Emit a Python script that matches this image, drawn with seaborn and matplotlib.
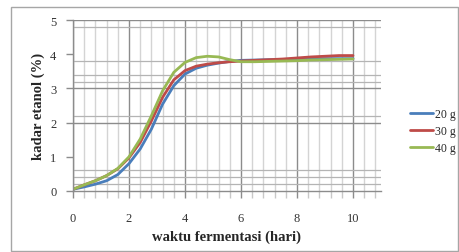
import numpy as np
import pandas as pd
import matplotlib
matplotlib.use('Agg')
import matplotlib.pyplot as plt
import seaborn as sns
from matplotlib.patches import Rectangle

# hari fermentasi
hari = [0, 0.4, 0.8, 1.2, 1.6, 2.0, 2.4, 2.8, 3.2, 3.6, 4.0, 4.4, 4.8,
        5.2, 5.6, 6.0, 6.5, 7.0, 7.5, 8.0, 8.5, 9.0, 9.5, 10.0]
# kadar etanol (%)
etanol_20 = [0.05, 0.12, 0.2, 0.3, 0.48, 0.8, 1.23, 1.81, 2.54, 3.08, 3.42, 3.59, 3.68,
             3.74, 3.79, 3.82, 3.83, 3.84, 3.84, 3.85, 3.86, 3.87, 3.87, 3.87]
etanol_30 = [0.05, 0.18, 0.3, 0.45, 0.65, 0.97, 1.42, 2.05, 2.74, 3.25, 3.52, 3.65, 3.71,
             3.75, 3.78, 3.8, 3.82, 3.84, 3.86, 3.89, 3.92, 3.94, 3.96, 3.96]
etanol_40 = [0.05, 0.18, 0.3, 0.45, 0.66, 1.0, 1.52, 2.2, 2.93, 3.47, 3.76, 3.9, 3.94,
             3.92, 3.84, 3.78, 3.78, 3.79, 3.8, 3.81, 3.83, 3.84, 3.85, 3.86]
labels = ['20 g', '30 g', '40 g']
warna = ['#4a7ebb', '#be4b48', '#98b954']

df = pd.DataFrame({
    'hari': hari * 3,
    'etanol': etanol_20 + etanol_30 + etanol_40,
    'ragi': [labels[0]] * len(hari) + [labels[1]] * len(hari) + [labels[2]] * len(hari),
})

sns.set_style('white')
plt.rcParams['font.family'] = ['Liberation Serif', 'DejaVu Serif']

fig = plt.figure(figsize=(4.6, 2.53), dpi=100)
ax = fig.add_axes([73 / 460, 1 - 192 / 253, 308 / 460, 171 / 253])

# gridlines (as they appear in the scanned Excel chart)
for xv in np.arange(0, 11, 0.4):
    major = abs(xv / 2 - round(xv / 2)) < 1e-6
    ax.axvline(xv, color='#8c8c8c' if major else '#d4d4d4', lw=1.0, zorder=0)
for yv in [0.2, 0.4, 0.6, 2.2, 3.2, 3.4, 3.8, 4.8]:
    ax.axhline(yv, color='#b4b4b4', lw=0.9, zorder=0)
for yv in [2, 3, 5]:
    ax.axhline(yv, color='#8c8c8c', lw=1.0, zorder=0)

sns.lineplot(data=df, x='hari', y='etanol', hue='ragi', palette=warna,
             linewidth=2.0, ax=ax, legend=True)

ax.set_xlim(0, 11)
ax.set_ylim(0, 5)
ax.set_xticks([0, 2, 4, 6, 8, 10])
ax.set_xticks(np.arange(0, 11, 0.4), minor=True)
ax.set_yticks([0, 1, 2, 3, 4, 5])
ax.tick_params(axis='both', which='both', direction='out', length=5, width=1,
               color='#8c8c8c', labelsize=9, labelcolor='#333333')
ax.tick_params(axis='x', pad=10)
ax.tick_params(axis='y', pad=7)
ax.tick_params(bottom=True, left=True)
ax.tick_params(axis='x', which='minor', bottom=True, length=5, color='#c8c8c8')

for s in ['top', 'right']:
    ax.spines[s].set_visible(False)
for s in ['left', 'bottom']:
    ax.spines[s].set_color('#8c8c8c')
    ax.spines[s].set_linewidth(1.0)

ax.set_xlabel('waktu fermentasi (hari)', fontsize=10.5, fontweight='bold', labelpad=4)
ax.set_ylabel('kadar etanol (%)', fontsize=10.5, fontweight='bold', labelpad=4)

handles, _ = ax.get_legend_handles_labels()
ax.legend(handles, labels, loc='center left', bbox_to_anchor=(405 / 460, 1 - 132 / 253),
          bbox_transform=fig.transFigure, frameon=False, fontsize=8.5,
          handlelength=2.0, handletextpad=0.1, labelspacing=0.45, borderaxespad=0)

fig.add_artist(Rectangle((11 / 460, 1 - 252 / 253), 447 / 460, 244 / 253,
                         transform=fig.transFigure, fill=False,
                         edgecolor='#a6a6a6', lw=1.0))

fig.savefig('out.png', dpi=100)
